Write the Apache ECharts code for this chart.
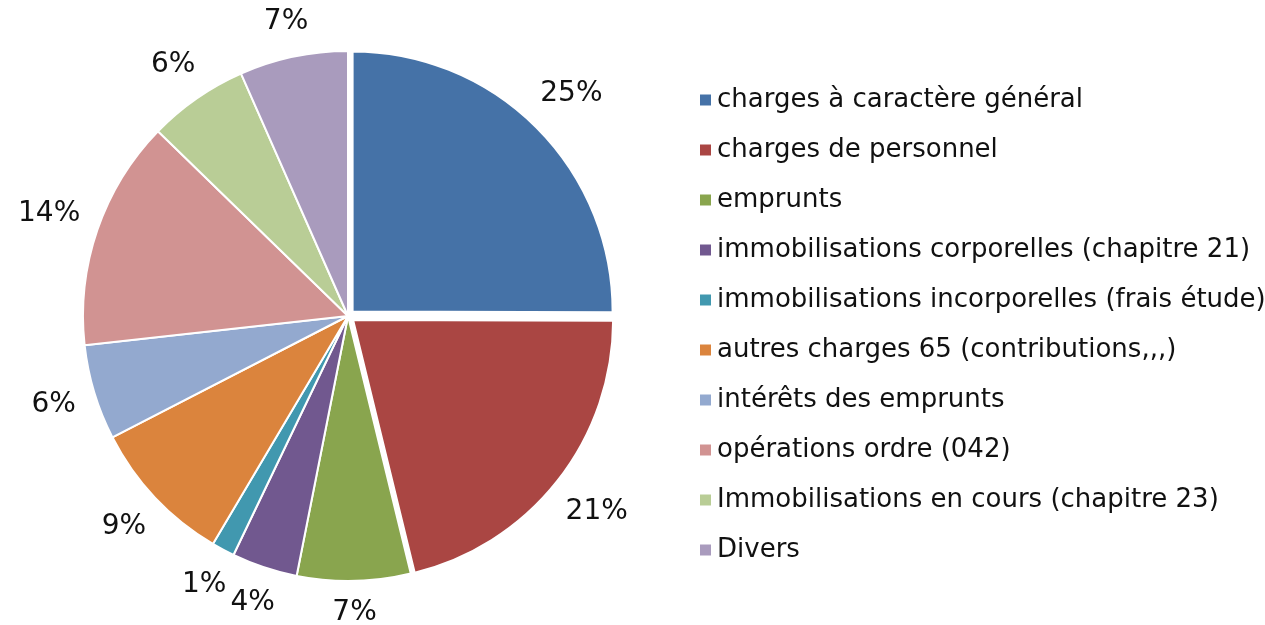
<!DOCTYPE html>
<html>
<head>
<meta charset="utf-8">
<script src="https://cdn.jsdelivr.net/npm/echarts@6/dist/echarts.min.js"></script>
<style>
  html, body { margin: 0; padding: 0; background: #fff; }
  #chart { width: 1265px; height: 625px; }
</style>
</head>
<body>
<div id="chart"></div>
<script>
// categories and shares
const categories = [
  'charges à caractère général',
  'charges de personnel',
  'emprunts',
  'immobilisations corporelles (chapitre 21)',
  'immobilisations incorporelles (frais étude)',
  'autres charges 65 (contributions,,,)',
  'intérêts des emprunts',
  'opérations ordre (042)',
  'Immobilisations en cours (chapitre 23)',
  'Divers'
];
const values = [25, 21.1, 6.9, 4.0, 1.4, 8.9, 5.8, 14.0, 6.1, 6.6];
const colors = ['#4572a7', '#aa4643', '#89a54e', '#71588f', '#4198af',
  '#db843d', '#93a9cf', '#d19392', '#b9cd96', '#a99bbd'];
// slices pulled out of the pie
const pulled = [true, true, false, false, false, false, false, false, false, false];

const CX = 348, CY = 316;
const R = 265;        // radius of the pie
const R_PULLED = 260; // excel shrinks the exploded slices a little
const PULL = 6.5;
const GAP = 17;

const chart = echarts.init(document.getElementById('chart'));

const total = values.reduce((a, b) => a + b, 0);
// mid angle of each slice, clockwise from 12 o'clock
let acc = 0;
const midAngles = values.map(v => {
  const a = (acc + v / 2) / total * Math.PI * 2;
  acc += v;
  return a;
});

const labelStyle = {
  show: true,
  position: 'outside',
  fontFamily: 'DejaVu Sans',
  fontSize: 28,
  color: '#111',
  formatter: p => Math.round(p.percent) + '%'
};

// centre and radius of each series, filled below
const seriesGeo = [];

// label box centred just outside the slice edge, like excel does
function placeLabel(params) {
  const g = seriesGeo[params.seriesIndex];
  const a = midAngles[params.dataIndex];
  const dx = Math.sin(a), dy = -Math.cos(a);
  const w = params.labelRect.width, h = params.labelRect.height;
  const d = g.r + GAP + Math.abs(dx) * w / 2 + Math.abs(dy) * h / 2;
  return {
    x: g.cx + dx * d,
    y: g.cy + dy * d,
    align: 'center',
    verticalAlign: 'middle'
  };
}

function pieSeries(cx, cy, r, visible) {
  seriesGeo.push({ cx: cx, cy: cy, r: r });
  return {
    type: 'pie',
    center: [cx, cy],
    radius: r,
    startAngle: 90,
    clockwise: true,
    silent: true,
    avoidLabelOverlap: false,
    itemStyle: { borderColor: '#fff', borderWidth: 2 },
    label: labelStyle,
    labelLine: { show: false, length: 10, length2: 0 },
    labelLayout: placeLabel,
    emphasis: { disabled: true },
    data: categories.map((name, i) => ({
      name: name,
      value: values[i],
      itemStyle: { color: colors[i], opacity: visible(i) ? 1 : 0 },
      label: { show: visible(i) }
    }))
  };
}

const series = [pieSeries(CX, CY, R, i => !pulled[i])];
pulled.forEach((p, k) => {
  if (!p) return;
  const a = midAngles[k];
  series.push(pieSeries(CX + Math.sin(a) * PULL, CY - Math.cos(a) * PULL,
    R_PULLED, i => i === k));
});

const option = {
  animation: false,
  legend: {
    orient: 'vertical',
    left: 693,
    top: 82,
    itemWidth: 13,
    itemHeight: 13,
    itemGap: 24,
    icon: 'rect',
    selectedMode: false,
    textStyle: {
      fontFamily: 'DejaVu Sans',
      fontSize: 26,
      color: '#111'
    },
    data: categories.map((name, i) => ({ name: name, itemStyle: { color: colors[i], opacity: 1 } }))
  },
  series: series
};

chart.setOption(option);
</script>
</body>
</html>
